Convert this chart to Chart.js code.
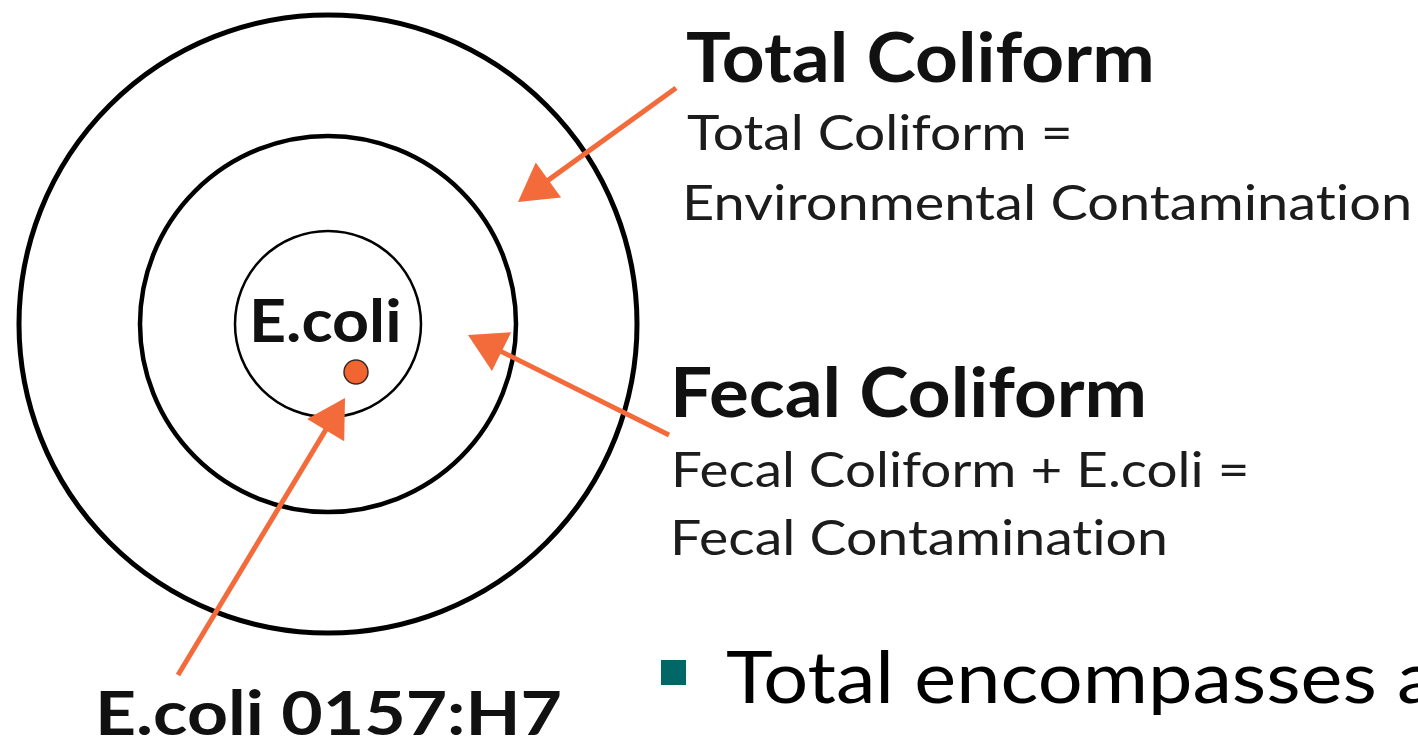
<!DOCTYPE html>
<html><head><meta charset="utf-8">
<script src="https://cdn.jsdelivr.net/npm/chart.js@4/dist/chart.umd.min.js"></script>
<style>
html,body{margin:0;padding:0;background:#fff;overflow:hidden;width:1418px;height:744px;}
#wrap{position:relative;width:1418px;height:744px;overflow:hidden;}
#c{position:absolute;left:0;top:0;}
.lbl{position:absolute;white-space:nowrap;font-family:Lato,'Open Sans',sans-serif;transform-origin:0 0;line-height:normal;font-variant-ligatures:none;font-feature-settings:"liga" 0;}
.bullet{position:absolute;background:#006666;}
</style></head><body>
<div id="wrap"><canvas id="c" width="1418" height="744"></canvas></div>
<script>
// ---- data ----
const ringNames   = ['Total Coliform', 'Fecal Coliform', 'E.coli'];
const ringCenterX = [328, 328, 328];
const ringCenterY = [324, 324, 324];
const ringRadius  = [309, 188, 93];

const strainNames = ['E.coli 0157:H7'];
const strainX = [356];
const strainY = [372];
const strainRadius = [12];

const arrowFromX = [676, 669, 178];
const arrowFromY = [88, 435, 675];
const arrowToX   = [518, 468, 345];
const arrowToY   = [202, 335, 398];

const labelTexts = ['Total Coliform', 'Total Coliform =', 'Environmental Contamination',
  'Fecal Coliform', 'Fecal Coliform + E.coli =', 'Fecal Contamination',
  'E.coli', 'E.coli 0157:H7', 'Total encompasses a'];

// ---- layout / style ----
const labelLeft     = [687, 687, 687, 675, 675, 675, 253, 100, 727];
const labelBaseline = [82, 150, 220, 417, 487, 555, 342, 735, 703];
const labelCap      = [50, 35.5, 35.5, 50, 36, 35, 43, 44, 53];
const labelFitText  = [null, null, null, null, null, null, null, null, 'Total encompasses'];
const labelInkWidth = [464, 382, 723, 468, 570, 491, 146, 460, 647];
const labelWeight   = [700, 400, 400, 700, 400, 400, 700, 700, 400];
const labelColor    = ['#111', '#1c1c1c', '#1c1c1c', '#111', '#1c1c1c', '#1c1c1c', '#111', '#111', '#000'];

const ORANGE = '#F36B3B';
const HEAD_R = 25;
const ringWidths = [5, 4.5, 2.5];

const wrap = document.getElementById('wrap');

// ---- chart ----
const ringData = ringNames.map((n, i) => ({x: ringCenterX[i], y: ringCenterY[i], r: ringRadius[i], name: n}));
const strainData = strainNames.map((n, i) => ({x: strainX[i], y: strainY[i], r: strainRadius[i], name: n}));

function pxLen(chart, r) {
  const xs = chart.scales.x;
  return Math.abs(xs.getPixelForValue(r) - xs.getPixelForValue(0));
}

const datasets = [];
const headData = [];
arrowFromX.forEach((fx, i) => {
  const dx = arrowToX[i] - fx, dy = arrowToY[i] - arrowFromY[i];
  const len = Math.hypot(dx, dy);
  const ux = dx / len, uy = dy / len;
  const cx = arrowToX[i] - ux * HEAD_R, cy = arrowToY[i] - uy * HEAD_R;
  headData.push({x: cx, y: cy, rot: Math.atan2(ux, -uy) * 180 / Math.PI});
  datasets.push({
    type: 'line', order: 0,
    data: [{x: fx, y: arrowFromY[i]}, {x: cx, y: cy}],
    borderColor: ORANGE, borderWidth: 5, pointRadius: 0, borderCapStyle: 'butt',
    fill: false, tension: 0, clip: false
  });
});
datasets.unshift({
  type: 'scatter', order: 0,
  data: headData,
  pointStyle: 'triangle',
  pointRadius: HEAD_R, pointHoverRadius: HEAD_R,
  rotation: ctx => ctx.raw ? ctx.raw.rot : 0,
  backgroundColor: ORANGE, borderWidth: 0, clip: false
});
datasets.push({
  type: 'scatter', order: 1,
  data: strainData,
  pointRadius: ctx => ctx.raw ? pxLen(ctx.chart, ctx.raw.r) : 0,
  backgroundColor: '#F26430', borderColor: '#3b2a22', borderWidth: 1.5, clip: false
});
datasets.push({
  type: 'scatter', order: 2,
  data: ringData,
  pointRadius: ctx => ctx.raw ? pxLen(ctx.chart, ctx.raw.r) : 0,
  backgroundColor: 'rgba(0,0,0,0)', borderColor: '#000',
  borderWidth: ctx => ringWidths[ctx.dataIndex] || 2, clip: false
});

new Chart(document.getElementById('c'), {
  type: 'scatter',
  data: {datasets},
  options: {
    responsive: false, animation: false, events: [],
    layout: {padding: 0, autoPadding: false},
    plugins: {legend: {display: false}, tooltip: {enabled: false}},
    scales: {
      x: {type: 'linear', min: 0, max: 1418, display: false},
      y: {type: 'linear', min: 0, max: 744, reverse: true, display: false}
    }
  }
});

// ---- labels ----
const mctx = document.createElement('canvas').getContext('2d');
function placeLabel(i) {
  const text = labelTexts[i], weight = labelWeight[i];
  const fam = "Lato, 'Open Sans', sans-serif";
  mctx.font = `${weight} 100px ${fam}`;
  const capRatio = mctx.measureText('H').actualBoundingBoxAscent / 100;
  const fs = labelCap[i] / capRatio;
  mctx.font = `${weight} ${fs}px ${fam}`;
  const m = mctx.measureText(labelFitText[i] || text);
  const inkLeft = -m.actualBoundingBoxLeft;
  const inkW = m.actualBoundingBoxRight + m.actualBoundingBoxLeft;
  const sx = labelInkWidth[i] ? labelInkWidth[i] / inkW : 1;
  const el = document.createElement('div');
  el.className = 'lbl';
  el.style.fontSize = fs + 'px';
  el.style.fontWeight = weight;
  el.style.color = labelColor[i];
  el.style.left = '0px'; el.style.top = '0px';
  const t = document.createElement('span'); t.textContent = text;
  const mk = document.createElement('span');
  mk.style.cssText = 'display:inline-block;width:0;height:0;vertical-align:baseline';
  el.appendChild(t); el.appendChild(mk);
  wrap.appendChild(el);
  const baseOff = mk.getBoundingClientRect().bottom - el.getBoundingClientRect().top;
  el.style.left = (labelLeft[i] - inkLeft * sx) + 'px';
  el.style.top = (labelBaseline[i] - baseOff) + 'px';
  el.style.transform = `scaleX(${sx})`;
}
labelTexts.forEach((_, i) => placeLabel(i));

const b = document.createElement('div');
b.className = 'bullet';
b.style.cssText += 'left:661px;top:660px;width:25px;height:25px;';
wrap.appendChild(b);
</script>
</body></html>
